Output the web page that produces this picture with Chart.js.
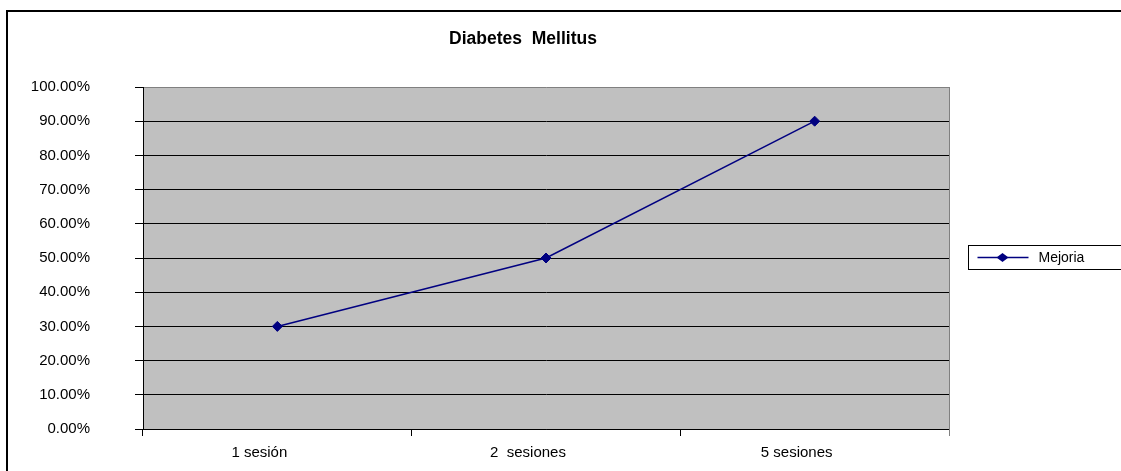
<!DOCTYPE html>
<html>
<head>
<meta charset="utf-8">
<script src="https://cdn.jsdelivr.net/npm/chart.js@4"></script>
<style>
  body { margin: 0; background: #fff; }
  canvas { display: block; }
</style>
</head>
<body>
<canvas id="chart" width="1121" height="471"></canvas>
<script>
// data
const categories = ["1 sesión", "2  sesiones", "5 sesiones"];
const mejoria = [0.30, 0.50, 0.90];
const seriesName = "Mejoria";
const chartTitle = "Diabetes  Mellitus";

const FONT = "'Liberation Sans', Arial, sans-serif";
const NAVY = "#000080";

/* ---------- plot background, frame, legend ---------- */
const decor = {
  id: "decor",
  beforeDraw(chart) {
    const c = chart.ctx, a = chart.chartArea;
    c.save();
    c.fillStyle = "#fff";
    c.fillRect(0, 0, chart.width, chart.height);
    c.fillStyle = "#c0c0c0";
    c.fillRect(a.left, a.top, a.right - a.left, a.bottom - a.top);
    c.restore();
  },
  afterDraw(chart) {
    const c = chart.ctx, a = chart.chartArea;
    c.save();
    // right border of plot
    c.strokeStyle = "#808080";
    c.lineWidth = 1;
    c.beginPath();
    c.moveTo(Math.round(a.right) + 0.5, a.top);
    c.lineTo(Math.round(a.right) + 0.5, a.bottom + 7);
    c.stroke();

    // outer frame
    c.strokeStyle = "#000";
    c.lineWidth = 2;
    c.strokeRect(7, 11, chart.width + 20, chart.height + 20);

    // legend
    const ds = chart.data.datasets[0];
    const lx = 968.5, ly = 245.5;
    c.fillStyle = "#fff";
    c.fillRect(lx, ly, 200, 24);
    c.strokeStyle = "#000";
    c.lineWidth = 1;
    c.strokeRect(lx, ly, 200, 24);
    const cy = ly + 12;
    c.strokeStyle = ds.borderColor;
    c.lineWidth = 1.5;
    c.beginPath();
    c.moveTo(lx + 9, cy);
    c.lineTo(lx + 60, cy);
    c.stroke();
    c.fillStyle = ds.borderColor;
    c.beginPath();
    c.moveTo(lx + 28, cy);
    c.lineTo(lx + 34, cy - 4.5);
    c.lineTo(lx + 40, cy);
    c.lineTo(lx + 34, cy + 4.5);
    c.closePath();
    c.fill();
    c.fillStyle = "#000";
    c.font = "14px " + FONT;
    c.textBaseline = "middle";
    c.textAlign = "left";
    c.fillText(ds.label, lx + 70, cy + 1);
    c.restore();
  }
};

let chart;

function initChart() {
  chart = new Chart(document.getElementById("chart"), {
    type: "line",
    data: {
      labels: categories,
      datasets: [{
        label: seriesName,
        data: mejoria,
        borderColor: NAVY,
        backgroundColor: NAVY,
        borderWidth: 1.5,
        tension: 0,
        pointStyle: "rectRot",
        pointRadius: 5,
        pointBackgroundColor: NAVY,
        pointBorderColor: NAVY,
        pointBorderWidth: 1
      }]
    },
    options: {
      responsive: false,
      animation: false,
      devicePixelRatio: 1,
      layout: { padding: { left: 28, right: 103, top: 0, bottom: 0 } },
      plugins: {
        legend: { display: false },
        tooltip: { enabled: false },
        title: {
          display: true,
          text: chartTitle,
          color: "#000",
          font: { family: FONT, size: 17.5, weight: "bold" },
          padding: { top: 29, bottom: 37 }
        }
      },
      scales: {
        x: {
          offset: true,
          grid: {
            offset: true,
            drawOnChartArea: false,
            drawTicks: true,
            tickLength: 7,
            color: "#000"
          },
          border: { display: true, color: "#000", width: 1 },
          ticks: {
            color: "#000",
            font: { family: FONT, size: 15 },
            padding: 8,
            labelOffset: -18,
            maxRotation: 0
          },
          afterFit(scale) { scale.height = 42; }
        },
        y: {
          min: 0,
          max: 1,
          grid: {
            color: ctx => (ctx.tick && ctx.tick.value === 1) ? "#808080" : "#000",
            lineWidth: 1,
            drawTicks: true,
            tickLength: 8,
            tickColor: "#000"
          },
          border: { display: true, color: "#000", width: 1 },
          ticks: {
            stepSize: 0.1,
            color: "#000",
            font: { family: FONT, size: 15 },
            padding: 45,
            callback: v => (v * 100).toFixed(2) + "%"
          },
          afterFit(scale) {
            scale.width = 115;
            scale.paddingTop = 10;
            scale.paddingBottom = 10;
          }
        },
        // empty right-hand axis, keeps room for the legend
        y2: {
          position: "right",
          grid: { display: false },
          border: { display: false },
          ticks: { display: false },
          afterFit(scale) {
            scale.width = 69;
            scale.paddingTop = 0;
            scale.paddingBottom = 0;
          }
        }
      }
    },
    plugins: [decor]
  });
}

window.onload = initChart;
</script>
</body>
</html>
